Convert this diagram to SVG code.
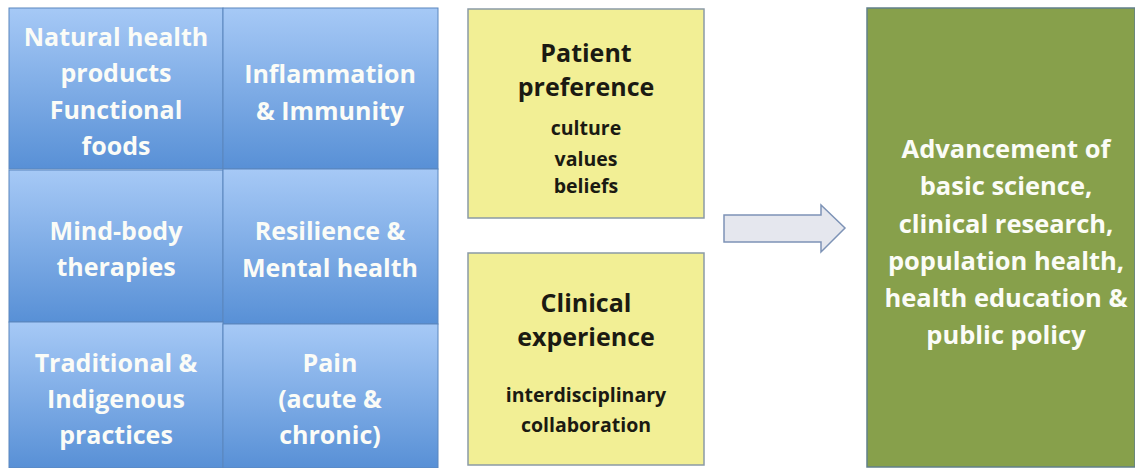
<svg xmlns="http://www.w3.org/2000/svg" width="1135" height="468" viewBox="0 0 1135 468">
  <defs>
    <linearGradient id="blueGrad" x1="0" y1="0" x2="0" y2="1">
      <stop offset="0" stop-color="#a6c9f6"/>
      <stop offset="1" stop-color="#5890d6"/>
    </linearGradient>
    <style>
      .blue { fill: url(#blueGrad); stroke: #5a86bd; stroke-width: 1; }
      .yellow { fill: #f2ef95; stroke: #8b9aa6; stroke-width: 1.5; }
      .green { fill: #87a04b; stroke: #62808a; stroke-width: 1.5; }
      .wt { font-family: "Open Sans", Lato, "Liberation Sans", sans-serif; font-weight: bold; fill: #fbfcf7; text-anchor: middle; font-size: 25px; }
      .bt { font-family: "Open Sans", Lato, "Liberation Sans", sans-serif; font-weight: bold; fill: #1b1a12; text-anchor: middle; }
      .big { font-size: 25px; }
      .small { font-size: 19.5px; }
      .gt { font-size: 25.5px; }
      .arrow { fill: #e5e7ee; stroke: #7d93b6; stroke-width: 1.5; }
    </style>
  </defs>
  <rect width="1135" height="468" fill="#ffffff"/>

  <g id="natural-health">
    <rect class="blue" x="9" y="8" width="214" height="161"/>
    <text class="wt" x="116" y="46">Natural health</text>
    <text class="wt" x="116" y="82">products</text>
    <text class="wt" x="116" y="119">Functional</text>
    <text class="wt" x="116" y="155">foods</text>
  </g>
  <g id="inflammation">
    <rect class="blue" x="223" y="8" width="215" height="161"/>
    <text class="wt" x="330" y="83">Inflammation</text>
    <text class="wt" x="330" y="120">&amp; Immunity</text>
  </g>
  <g id="mind-body">
    <rect class="blue" x="9" y="170" width="214" height="152"/>
    <text class="wt" x="116" y="240">Mind-body</text>
    <text class="wt" x="116" y="276">therapies</text>
  </g>
  <g id="resilience">
    <rect class="blue" x="223" y="169" width="215" height="155"/>
    <text class="wt" x="330" y="240">Resilience &amp;</text>
    <text class="wt" x="330" y="277">Mental health</text>
  </g>
  <g id="traditional">
    <rect class="blue" x="9" y="322" width="214" height="146"/>
    <text class="wt" x="116" y="372">Traditional &amp;</text>
    <text class="wt" x="116" y="408">Indigenous</text>
    <text class="wt" x="116" y="444">practices</text>
  </g>
  <g id="pain">
    <rect class="blue" x="223" y="324" width="215" height="144"/>
    <text class="wt" x="330" y="372">Pain</text>
    <text class="wt" x="330" y="408">(acute &amp;</text>
    <text class="wt" x="330" y="444">chronic)</text>
  </g>

  <g id="patient-preference">
    <rect class="yellow" x="468" y="9" width="236" height="209"/>
    <text class="bt big" x="586" y="62">Patient</text>
    <text class="bt big" x="586" y="96">preference</text>
    <text class="bt small" x="586" y="135">culture</text>
    <text class="bt small" x="586" y="166">values</text>
    <text class="bt small" x="586" y="193">beliefs</text>
  </g>
  <g id="clinical-experience">
    <rect class="yellow" x="468" y="253" width="236" height="212"/>
    <text class="bt big" x="586" y="312">Clinical</text>
    <text class="bt big" x="586" y="346">experience</text>
    <text class="bt small" x="586" y="402">interdisciplinary</text>
    <text class="bt small" x="586" y="432">collaboration</text>
  </g>

  <g id="connectors">
    <path class="arrow" d="M724,215 L821,215 L821,205 L845,228 L821,252 L821,242 L724,242 Z"/>
  </g>

  <g id="advancement">
    <rect class="green" x="867" y="8" width="268" height="459"/>
    <text class="wt gt" x="1006" y="158">Advancement of</text>
    <text class="wt gt" x="1006" y="195">basic science,</text>
    <text class="wt gt" x="1006" y="233">clinical research,</text>
    <text class="wt gt" x="1006" y="270">population health,</text>
    <text class="wt gt" x="1006" y="307">health education &amp;</text>
    <text class="wt gt" x="1006" y="344">public policy</text>
  </g>
</svg>
